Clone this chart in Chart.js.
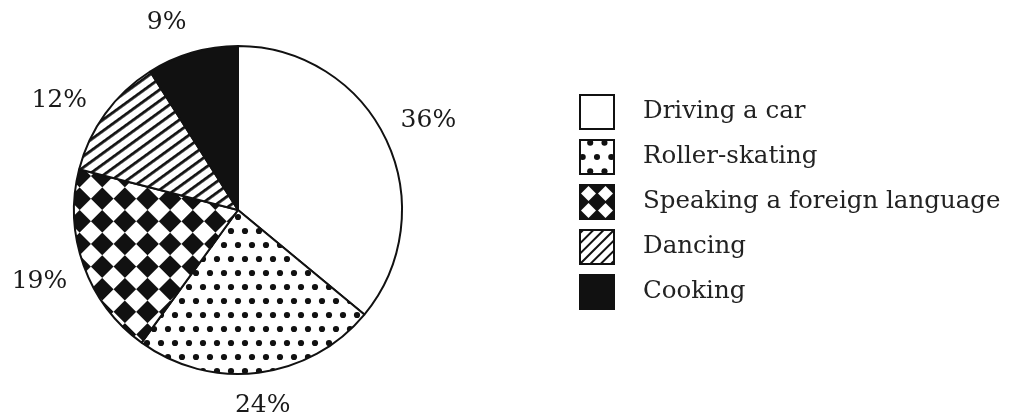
<!DOCTYPE html>
<html>
<head>
<meta charset="utf-8">
<script src="https://cdn.jsdelivr.net/npm/chart.js@4.4.1/dist/chart.umd.min.js"></script>
<style>
    html, body { margin: 0; padding: 0; background: #fff; }
    #wrap { width: 1011px; height: 420px; position: relative; }
</style>
</head>
<body>
<div id="wrap"><canvas id="chart-pie" width="1011" height="420"></canvas></div>
<script>
// Data
const activities = ['Driving a car', 'Roller-skating', 'Speaking a foreign language', 'Dancing', 'Cooking'];
const shares = [36, 24, 19, 12, 9];

const ink = '#111';
const serif = "'DejaVu Serif', 'Liberation Serif', serif";

// ============================================
// Fill patterns (dots, diamonds, hatching)
// ============================================
function tile(w, h, draw) {
    const c = document.createElement('canvas');
    c.width = w; c.height = h;
    const g = c.getContext('2d');
    g.fillStyle = '#fff';
    g.fillRect(0, 0, w, h);
    g.fillStyle = ink;
    draw(g);
    return c;
}

const scratch = document.createElement('canvas').getContext('2d');

// staggered dots
const dotTile = tile(14, 28, g => {
    [[7, 7], [0, 21], [14, 21]].forEach(([x, y]) => {
        g.beginPath(); g.arc(x, y, 3.1, 0, Math.PI * 2); g.fill();
    });
});
const dots = scratch.createPattern(dotTile, 'repeat');

// checkerboard turned 45 degrees
const cell = 16;
const checkTile = tile(cell * 2, cell * 2, g => {
    g.fillRect(0, 0, cell, cell);
    g.fillRect(cell, cell, cell, cell);
});
const diamonds = scratch.createPattern(checkTile, 'repeat');
diamonds.setTransform(new DOMMatrix().translate(238, 210).rotate(45));

// diagonal hatching
const hatchTile = tile(9, 9, g => { g.fillRect(0, 3, 9, 2.8); });
const hatch = scratch.createPattern(hatchTile, 'repeat');
hatch.setTransform(new DOMMatrix().rotate(-36));

const fills = ['#fff', dots, diamonds, hatch, ink];

// ============================================
// Labels + legend drawn on top of the pie
// ============================================
function drawSwatch(ctx, i, x, y, s) {
    ctx.save();
    ctx.beginPath(); ctx.rect(x, y, s, s); ctx.clip();
    ctx.fillStyle = '#fff';
    ctx.fillRect(x, y, s, s);
    ctx.fillStyle = ink; ctx.strokeStyle = ink;
    if (i === 1) {
        const pts = [[0.3, 0.08], [0.72, 0.08], [0.08, 0.5], [0.5, 0.5], [0.92, 0.5], [0.3, 0.92], [0.72, 0.92]];
        pts.forEach(([u, v]) => {
            ctx.beginPath(); ctx.arc(x + u * s, y + v * s, s * 0.09, 0, Math.PI * 2); ctx.fill();
        });
    } else if (i === 2) {
        ctx.fillRect(x, y, s, s);
        ctx.fillStyle = '#fff';
        [[0.25, 0.25], [0.75, 0.25], [0.25, 0.75], [0.75, 0.75]].forEach(([u, v]) => {
            const cx = x + u * s, cy = y + v * s, h = s * 0.22;
            ctx.beginPath();
            ctx.moveTo(cx, cy - h); ctx.lineTo(cx + h, cy); ctx.lineTo(cx, cy + h); ctx.lineTo(cx - h, cy);
            ctx.closePath(); ctx.fill();
        });
    } else if (i === 3) {
        ctx.lineWidth = 2;
        for (let k = -3; k <= 4; k++) {
            const off = k * s / 3.3;
            ctx.beginPath(); ctx.moveTo(x + off, y + s); ctx.lineTo(x + off + s, y); ctx.stroke();
        }
    } else if (i === 4) {
        ctx.fillRect(x, y, s, s);
    }
    ctx.restore();
    ctx.strokeStyle = ink; ctx.lineWidth = 2;
    ctx.strokeRect(x, y, s, s);
}

const overlay = {
    id: 'overlay',
    afterDraw(chart) {
        const ctx = chart.ctx;
        const arcs = chart.getDatasetMeta(0).data;
        ctx.save();
        ctx.fillStyle = '#1a1a1a';
        ctx.font = '25px ' + serif;
        ctx.textAlign = 'center';
        ctx.textBaseline = 'middle';
        arcs.forEach((arc, i) => {
            const p = arc.getProps(['x', 'y', 'startAngle', 'endAngle', 'outerRadius']);
            // small upper-left slices have their labels turned a little back
            const mid = (p.startAngle + p.endAngle) / 2 - (shares[i] < 15 ? 0.08 : 0);
            // sideways labels sit further out than top/bottom ones
            const r = p.outerRadius + 31 + Math.abs(Math.cos(mid)) * 17;
            ctx.fillText(shares[i] + '%', p.x + Math.cos(mid) * r, p.y + Math.sin(mid) * r);
        });

        // legend
        const box = 34, left = 580, top = 95, step = 45;
        ctx.font = '24.5px ' + serif;
        ctx.textAlign = 'left';
        activities.forEach((name, i) => {
            const y = top + i * step;
            drawSwatch(ctx, i, left, y, box);
            ctx.fillStyle = '#222';
            ctx.fillText(name, 643, y + box / 2);
        });
        ctx.restore();
    }
};

new Chart(document.getElementById('chart-pie').getContext('2d'), {
    type: 'pie',
    plugins: [overlay],
    data: {
        labels: activities,
        datasets: [{
            data: shares,
            backgroundColor: fills,
            borderColor: ink,
            borderWidth: 2
        }]
    },
    options: {
        responsive: false,
        animation: false,
        layout: { padding: { left: 73, top: 45, right: 608, bottom: 45 } },
        plugins: {
            legend: { display: false },
            tooltip: { enabled: false }
        }
    }
});
</script>
</body>
</html>
